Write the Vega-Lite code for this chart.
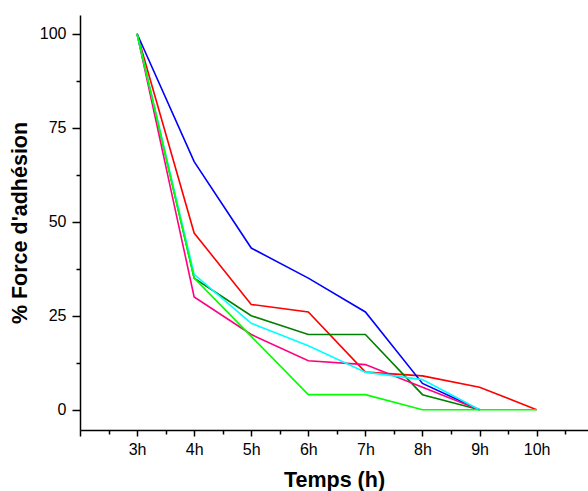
{
  "$schema": "https://vega.github.io/schema/vega-lite/v6.json",
  "width": 508,
  "height": 415,
  "autosize": {"type": "none"},
  "padding": {"left": 80, "top": 15, "right": 0, "bottom": 61},
  "background": "white",
  "config": {
    "view": {"stroke": null},
    "axis": {
      "grid": false,
      "domainColor": "black",
      "domainWidth": 1.5,
      "tickColor": "black",
      "tickWidth": 1.5,
      "labelColor": "black",
      "titleColor": "black",
      "labelFont": "Liberation Sans",
      "titleFont": "Liberation Sans",
      "labelFontSize": 16,
      "titleFontSize": 21.5,
      "titleFontWeight": "bold"
    }
  },
  "data": {
    "values": [
      {"s": "S1", "t": 3, "v": 100}, {"s": "S1", "t": 4, "v": 47}, {"s": "S1", "t": 5, "v": 28}, {"s": "S1", "t": 6, "v": 26}, {"s": "S1", "t": 7, "v": 10}, {"s": "S1", "t": 8, "v": 9}, {"s": "S1", "t": 9, "v": 6}, {"s": "S1", "t": 10, "v": 0},
      {"s": "S2", "t": 3, "v": 100}, {"s": "S2", "t": 4, "v": 66}, {"s": "S2", "t": 5, "v": 43}, {"s": "S2", "t": 6, "v": 35}, {"s": "S2", "t": 7, "v": 26}, {"s": "S2", "t": 8, "v": 7}, {"s": "S2", "t": 9, "v": 0},
      {"s": "S3", "t": 3, "v": 100}, {"s": "S3", "t": 4, "v": 35}, {"s": "S3", "t": 5, "v": 25}, {"s": "S3", "t": 6, "v": 20}, {"s": "S3", "t": 7, "v": 20}, {"s": "S3", "t": 8, "v": 4}, {"s": "S3", "t": 9, "v": 0},
      {"s": "S4", "t": 3, "v": 100}, {"s": "S4", "t": 4, "v": 30}, {"s": "S4", "t": 5, "v": 20}, {"s": "S4", "t": 6, "v": 13}, {"s": "S4", "t": 7, "v": 12}, {"s": "S4", "t": 8, "v": 6}, {"s": "S4", "t": 9, "v": 0},
      {"s": "S5", "t": 3, "v": 100}, {"s": "S5", "t": 4, "v": 36}, {"s": "S5", "t": 5, "v": 23}, {"s": "S5", "t": 6, "v": 17}, {"s": "S5", "t": 7, "v": 10}, {"s": "S5", "t": 8, "v": 8}, {"s": "S5", "t": 9, "v": 0},
      {"s": "S6", "t": 3, "v": 100}, {"s": "S6", "t": 4, "v": 35}, {"s": "S6", "t": 5, "v": 19.5}, {"s": "S6", "t": 6, "v": 4}, {"s": "S6", "t": 7, "v": 4}, {"s": "S6", "t": 8, "v": 0}, {"s": "S6", "t": 9, "v": 0}, {"s": "S6", "t": 10, "v": 0}
    ]
  },
  "layer": [
    {
      "mark": {"type": "line", "strokeWidth": 1.6, "clip": true},
      "encoding": {
        "x": {
          "field": "t", "type": "quantitative",
          "scale": {"domain": [2, 10.9], "nice": false, "zero": false},
          "axis": {
            "orient": "bottom",
            "values": [2, 3, 4, 5, 6, 7, 8, 9, 10],
            "labelExpr": "datum.value < 3 ? '' : datum.value + 'h'",
            "tickSize": 6,
            "labelPadding": 5,
            "title": "Temps (h)",
            "titlePadding": 12
          }
        },
        "y": {
          "field": "v", "type": "quantitative",
          "scale": {"domain": [-5.4, 105], "nice": false, "zero": false},
          "axis": {
            "orient": "left",
            "values": [0, 25, 50, 75, 100],
            "tickSize": 8,
            "labelPadding": 6,
            "title": "% Force d'adhésion",
            "titlePadding": 8
          }
        },
        "color": {
          "field": "s", "type": "nominal",
          "scale": {"domain": ["S1", "S2", "S3", "S4", "S5", "S6"], "range": ["#ff0000", "#0000ff", "#008000", "#ff0080", "#00ffff", "#00ff00"]},
          "legend": null
        }
      }
    },
    {
      "mark": {"type": "point", "opacity": 0},
      "encoding": {
        "x": {
          "field": "t", "type": "quantitative",
          "scale": {"domain": [2, 10.9], "nice": false, "zero": false},
          "axis": {"orient": "bottom", "values": [2.5, 3.5, 4.5, 5.5, 6.5, 7.5, 8.5, 9.5, 10.5], "labels": false, "domain": false, "tickSize": 4, "title": null}
        },
        "y": {
          "field": "v", "type": "quantitative",
          "scale": {"domain": [-5.4, 105], "nice": false, "zero": false},
          "axis": {"orient": "left", "values": [12.5, 37.5, 62.5, 87.5], "labels": false, "domain": false, "tickSize": 4, "title": null}
        }
      }
    }
  ],
  "resolve": {"axis": {"x": "independent", "y": "independent"}}
}
